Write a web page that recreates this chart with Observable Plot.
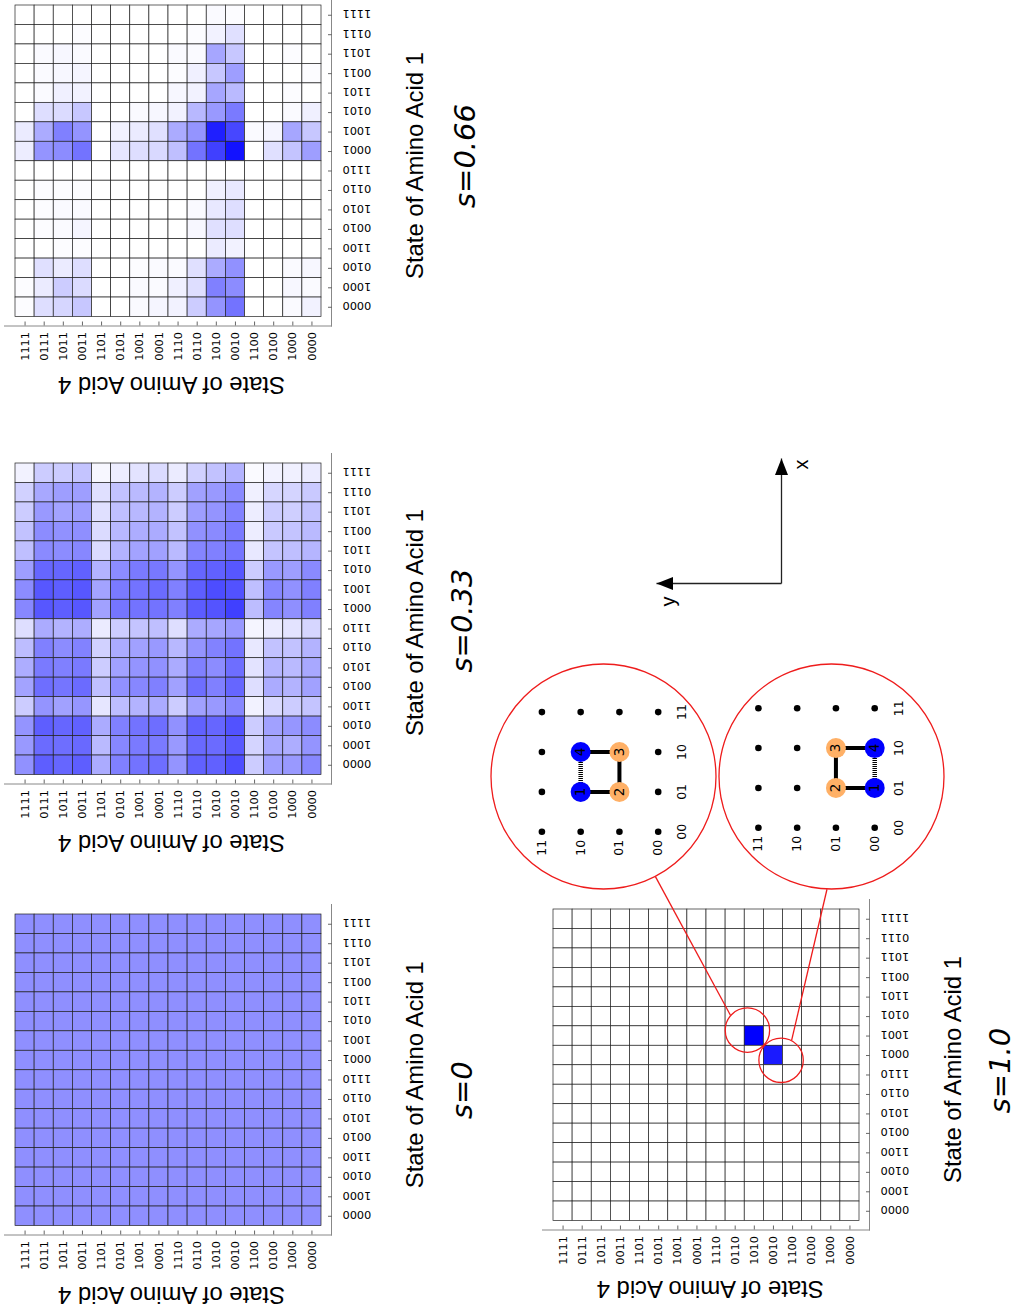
<!DOCTYPE html>
<html>
<head>
<meta charset="utf-8">
<script src="https://cdn.jsdelivr.net/npm/d3@7"></script>
<script src="https://cdn.jsdelivr.net/npm/@observablehq/plot@0.6"></script>
<style>
html,body{margin:0;padding:0;background:#fff;}
#page{position:relative;width:1018px;height:1313px;overflow:hidden;background:#fff;}
#page svg{position:absolute;background:transparent;overflow:visible;}
</style>
</head>
<body>
<div id="page"></div>
<script>
// ---- data ----
const states = ["1111","0111","1011","0011","1101","0101","1001","0001","1110","0110","1010","0010","1100","0100","1000","0000"];
const latticeStates = ["11","10","01","00"];

// percent of full blue, rows top to bottom, columns left to right
const s0Values = [
[44,44,44,44,44,44,44,44,44,44,44,44,44,44,44,44],
[44,44,44,44,44,44,44,44,44,44,44,44,44,44,44,44],
[44,44,44,44,44,44,44,44,44,44,44,44,44,44,44,44],
[44,44,44,44,44,44,44,44,44,44,44,44,44,44,44,44],
[44,44,44,44,44,44,44,44,44,44,44,44,44,44,44,44],
[44,44,44,44,44,44,44,44,44,44,44,44,44,44,44,44],
[44,44,44,44,44,44,44,44,44,44,44,44,44,44,44,44],
[44,44,44,44,44,44,44,44,44,44,44,44,44,44,44,44],
[44,44,44,44,44,44,44,44,44,44,44,44,44,44,44,44],
[44,44,44,44,44,44,44,44,44,44,44,44,44,44,44,44],
[44,44,44,44,44,44,44,44,44,44,44,44,44,44,44,44],
[44,44,44,44,44,44,44,44,44,44,44,44,44,44,44,44],
[44,44,44,44,44,44,44,44,44,44,44,44,44,44,44,44],
[44,44,44,44,44,44,44,44,44,44,44,44,44,44,44,44],
[44,44,44,44,44,44,44,44,44,44,44,44,44,44,44,44],
[44,44,44,44,44,44,44,44,44,44,44,44,44,44,44,44]];
const s33Values = [
[5,20,20,23,3,7,11,14,8,18,24,30,2,5,6,8],
[18,34,38,38,12,24,27,30,20,37,40,46,6,16,17,21],
[20,40,36,38,12,25,28,30,20,38,42,49,7,20,19,24],
[24,45,43,44,14,28,32,33,24,43,46,52,7,21,23,27],
[25,46,45,47,14,30,36,37,27,48,50,54,9,23,25,29],
[38,60,60,62,30,45,52,53,42,60,62,66,20,40,38,46],
[45,66,63,66,36,52,55,58,50,63,70,68,25,47,43,50],
[47,66,63,66,37,54,55,55,50,64,67,75,26,48,44,50],
[13,33,30,32,8,20,23,25,13,33,35,40,4,8,11,16],
[26,50,45,49,18,33,37,40,28,42,49,55,9,24,24,30],
[32,52,50,52,20,37,42,43,33,50,45,57,11,29,27,34],
[36,57,54,58,25,43,47,50,37,57,50,60,13,33,30,37],
[20,42,37,41,10,26,30,33,20,37,40,47,5,15,20,23],
[42,63,60,62,33,50,55,57,43,62,60,68,20,37,41,45],
[40,58,57,59,27,47,52,52,40,59,58,65,17,34,32,42],
[43,63,60,63,33,50,55,57,42,62,62,70,20,38,40,47]];
const s66Values = [
[0,0,0,0,0,0,0,0,0,0,2,1,0,0,0,0],
[0,0,0,1,0,0,0,0,0,1,5,12,0,0,0,0],
[0,2,3,2,0,0,0,0,2,2,35,22,0,0,1,0],
[0,2,3,4,0,0,0,0,1,6,22,38,0,0,0,1],
[0,2,6,5,0,0,0,0,3,5,35,27,0,0,1,0],
[0,13,14,22,0,0,2,3,5,28,40,52,0,0,2,6],
[8,33,50,42,0,5,8,12,33,42,88,72,2,4,35,22],
[7,42,45,55,0,10,13,15,25,55,75,93,0,12,23,38],
[0,0,0,0,0,0,0,0,0,0,0,0,0,0,0,0],
[0,1,1,1,0,0,0,0,0,0,6,9,0,0,0,0],
[0,1,2,2,0,0,0,0,0,2,9,13,0,0,0,0],
[0,1,2,4,0,0,0,0,0,3,12,13,0,0,0,0],
[0,0,1,1,0,0,0,0,0,0,8,5,0,0,0,0],
[0,12,8,13,0,0,1,2,2,12,33,43,0,0,2,3],
[1,8,20,14,0,0,2,2,6,13,50,45,0,0,3,2],
[1,13,16,22,0,0,2,4,5,20,42,55,0,0,2,5]];
const s100Values = [
[0,0,0,0,0,0,0,0,0,0,0,0,0,0,0,0],
[0,0,0,0,0,0,0,0,0,0,0,0,0,0,0,0],
[0,0,0,0,0,0,0,0,0,0,0,0,0,0,0,0],
[0,0,0,0,0,0,0,0,0,0,0,0,0,0,0,0],
[0,0,0,0,0,0,0,0,0,0,0,0,0,0,0,0],
[0,0,0,0,0,0,0,0,0,0,0,0,0,0,0,0],
[0,0,0,0,0,0,0,0,0,0,100,0,0,0,0,0],
[0,0,0,0,0,0,0,0,0,0,0,90,0,0,0,0],
[0,0,0,0,0,0,0,0,0,0,0,0,0,0,0,0],
[0,0,0,0,0,0,0,0,0,0,0,0,0,0,0,0],
[0,0,0,0,0,0,0,0,0,0,0,0,0,0,0,0],
[0,0,0,0,0,0,0,0,0,0,0,0,0,0,0,0],
[0,0,0,0,0,0,0,0,0,0,0,0,0,0,0,0],
[0,0,0,0,0,0,0,0,0,0,0,0,0,0,0,0],
[0,0,0,0,0,0,0,0,0,0,0,0,0,0,0,0],
[0,0,0,0,0,0,0,0,0,0,0,0,0,0,0,0]];

// lattice conformations: [y state, x state] of monomers 1..4
const monomerLabels = ["1","2","3","4"];
const monomerColors = ["#0000ff","#ffb066","#ffb066","#0000ff"];
const chainA = [["10","01"],["01","01"],["01","10"],["10","10"]];
const chainB = [["00","01"],["01","01"],["01","10"],["00","10"]];

// zoom connectors and small circles in cell units of the s=1 grid
const zoomCenters = [[10.14,6.2],[11.9,7.75]];
const zoomLinks = [[9.26,5.45,5.33,-1.69],[12.45,6.73,14.3,-1.04]];

const titleY = "State of Amino Acid 4";
const titleX = "State of Amino Acid 1";

// ---- layout ----
const page = document.getElementById("page");
const sans = "'Liberation Sans', Arial, sans-serif";
const deja = "'DejaVu Sans', sans-serif";

function place(svg, left, top){ svg.style.left = left + "px"; svg.style.top = top + "px"; page.appendChild(svg); }

function heatmap(values, label, left, top, t4, t1, sPos){
  const W = 480, H = 415;
  const cells = values.flatMap((row,i)=>row.map((v,j)=>({row:states[i],col:states[j],v})));
  const at = (p)=>({frameAnchor:"top-left", dx:p[0]-left-4, dy:p[1]-top-4});
  const svg = Plot.plot({
    width:W, height:H,
    marginLeft:4, marginTop:4, marginRight:W-331, marginBottom:H-334.5,
    style:{background:"transparent",overflow:"visible"},
    x:{type:"band",domain:states,range:[15,321],padding:0,round:false,label:null},
    y:{type:"band",domain:states,range:[14,325.5],padding:0,round:false,label:null},
    color:{type:"linear",domain:[0,100],range:["#ffffff","#0000ff"],interpolate:d3.interpolateRgb},
    marks:[
      Plot.cell(cells,{x:"col",y:"row",fill:"v",stroke:"#222",strokeWidth:0.7}),
      Plot.frame({anchor:"bottom",stroke:"#888",strokeWidth:1}),
      Plot.frame({anchor:"right",stroke:"#888",strokeWidth:1}),
      Plot.axisX({anchor:"bottom",tickRotate:-90,tickSize:-4,tickPadding:10,textAnchor:"end",lineAnchor:"middle",label:null,fontSize:11.3,fontFamily:deja,stroke:"#666",fill:"#000"}),
      Plot.axisY({anchor:"right",text:null,tickSize:-4,label:null,stroke:"#666"}),
      Plot.axisY({anchor:"right",tickRotate:180,tickSize:0,tickPadding:11,dy:-1.5,textAnchor:"end",lineAnchor:"middle",label:null,fontSize:11.3,fontFamily:deja,fill:"#000"}),
      Plot.text([titleY],{...at(t4),text:d=>d,rotate:180,fontFamily:sans,fontSize:23.9,textAnchor:"middle",lineAnchor:"middle",fill:"#000"}),
      Plot.text([titleX],{...at(t1),text:d=>d,rotate:-90,fontFamily:sans,fontSize:23.9,textAnchor:"middle",lineAnchor:"middle",fill:"#000"}),
      Plot.text([label],{...at(sPos),text:d=>d,rotate:-90,fontFamily:deja,fontStyle:"italic",fontSize:29,textAnchor:"middle",lineAnchor:"middle",fill:"#000"})
    ]
  });
  place(svg,left,top);
}

heatmap(s66Values,"s=0.66",0,-9.5,[171,384],[415,164.5],[465,155]);
heatmap(s33Values,"s=0.33",0,449,[171,842],[415,622],[462,620]);
heatmap(s0Values,"s=0",0,900.3,[171,1294],[415,1074.5],[462,1090]);
heatmap(s100Values,"s=1.0",538.3,895,[710,1288],[953,1069],[1000.5,1070]);

function lattice(chain, cx, cy, xr, yr){
  const S = 240;
  const grid = latticeStates.flatMap(a=>latticeStates.map(b=>[a,b]));
  const occupied = new Set(chain.map(d=>d.join()));
  const free = grid.filter(d=>!occupied.has(d.join()));
  const mons = chain.map((d,i)=>({y:d[0],x:d[1],label:monomerLabels[i],color:monomerColors[i]}));
  const svg = Plot.plot({
    width:S,height:S,margin:0,
    style:{background:"transparent",overflow:"visible"},
    x:{type:"point",domain:latticeStates,range:xr.map(v=>v-cx+S/2),padding:0,round:false,axis:null},
    y:{type:"point",domain:latticeStates,range:yr.map(v=>v-cy+S/2),padding:0,round:false,axis:null},
    marks:[
      Plot.dot([0],{frameAnchor:"middle",r:112.5,fill:"none",stroke:"#ee1c1c",strokeWidth:1.3}),
      Plot.dot(free,{x:d=>d[0],y:d=>d[1],r:3.3,fill:"#000"}),
      Plot.line(mons,{x:"y",y:"x",stroke:"#000",strokeWidth:4,strokeLinecap:"butt",strokeLinejoin:"miter"}),
      Plot.line([mons[3],mons[0]],{x:"y",y:"x",stroke:"#000",strokeWidth:4.5,strokeDasharray:"1 1",strokeLinecap:"butt"}),
      Plot.dot(mons,{x:"y",y:"x",r:10,fill:"color",stroke:"none"}),
      Plot.text(mons,{x:"y",y:"x",text:"label",rotate:-90,fontFamily:deja,fontSize:13.5,fill:"#000",lineAnchor:"middle"}),
      Plot.text(latticeStates,{x:d=>d,y:()=>"00",dy:16,text:d=>d,rotate:-90,fontFamily:deja,fontSize:12.5,fill:"#000",lineAnchor:"middle"}),
      Plot.text(latticeStates,{x:()=>"00",y:d=>d,dx:24,text:d=>d,rotate:-90,fontFamily:deja,fontSize:12.5,fill:"#000",lineAnchor:"middle"})
    ]
  });
  place(svg,cx-S/2,cy-S/2);
}
lattice(chainA,603.3,776,[541.7,658],[711.6,831.3]);
lattice(chainB,830.8,776,[757.7,874],[707.7,827.3]);

// zoom circles and connectors, in cell units of the s=1 grid
place(Plot.plot({
  width:480,height:380,margin:0,
  style:{background:"transparent",overflow:"visible"},
  x:{type:"linear",domain:[0,16],range:[15,321],axis:null},
  y:{type:"linear",domain:[0,16],range:[59,370.3],axis:null},
  marks:[
    Plot.link(zoomLinks,{x1:d=>d[0],y1:d=>d[1],x2:d=>d[2],y2:d=>d[3],stroke:"#ee1c1c",strokeWidth:1.3}),
    Plot.dot(zoomCenters,{x:d=>d[0],y:d=>d[1],r:22.2,fill:"none",stroke:"#ee1c1c",strokeWidth:1.3})
  ]
}),538.3,850);

// axis arrows: x up, y left
const arrowHead = {draw(c){ c.moveTo(0,0); c.lineTo(-6.5,16.5); c.lineTo(6.5,16.5); c.closePath(); }};
const axisTips = [{name:"x",px:0,py:1},{name:"y",px:1,py:0}];
place(Plot.plot({
  width:170,height:170,margin:0,
  style:{background:"transparent",overflow:"visible"},
  x:{type:"linear",domain:[1,0],range:[20,145],axis:null},
  y:{type:"linear",domain:[0,1],range:[145,20],axis:null},
  marks:[
    Plot.link(axisTips,{x1:()=>0,y1:()=>0,x2:"px",y2:d=>d.py,stroke:"#222",strokeWidth:1.3}),
    Plot.dot([axisTips[0]],{x:"px",y:"py",symbol:arrowHead,r:5,fill:"#000",stroke:"none"}),
    Plot.dot([axisTips[1]],{x:"px",y:"py",symbol:arrowHead,rotate:-90,r:5,fill:"#000",stroke:"none"}),
    Plot.text([axisTips[0]],{x:"px",y:"py",dx:20,dy:6,text:"name",rotate:-90,fontFamily:sans,fontSize:20,fill:"#000",lineAnchor:"middle"}),
    Plot.text([axisTips[1]],{x:"px",y:"py",dx:12,dy:18,text:"name",rotate:-90,fontFamily:sans,fontSize:20,fill:"#000",lineAnchor:"middle"})
  ]
}),636,438.3);
</script>
</body>
</html>
